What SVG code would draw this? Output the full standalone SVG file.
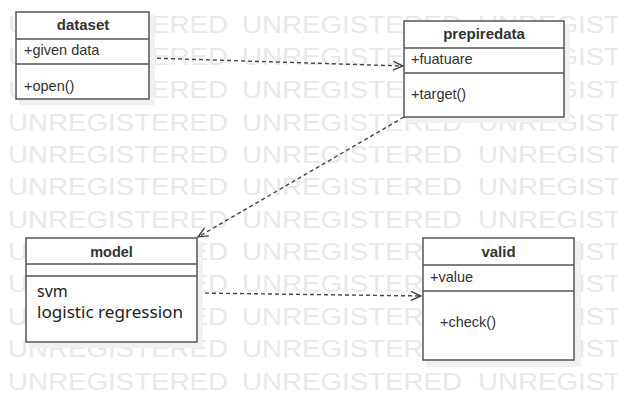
<svg xmlns="http://www.w3.org/2000/svg" width="618" height="393" viewBox="0 0 618 393">
<style>
.wm{font-family:"Liberation Sans",Arial,sans-serif;font-size:24px;fill:#e8e8e8}
.box{fill:#fff;stroke:#555;stroke-width:1.5}
.shadow{fill:#f1f1f1}
.sep{stroke:#555;stroke-width:1.5}
.hd{font-family:"Liberation Sans",Arial,sans-serif;font-size:15px;font-weight:bold;fill:#333;text-anchor:middle}
.at{font-family:"Liberation Sans",Arial,sans-serif;font-size:14.5px;fill:#333}
.cal{font-family:"Noto Sans","Open Sans",sans-serif;font-size:16px;fill:#222}
.conn{fill:none;stroke:#444;stroke-width:1.4;stroke-dasharray:4 3}
</style>
<defs>
<marker id="open" viewBox="0 0 12 10" refX="11" refY="5" markerWidth="12" markerHeight="10" markerUnits="userSpaceOnUse" orient="auto">
<path d="M1,0.5 L11,5 L1,9.5" fill="none" stroke="#444" stroke-width="1.4"/>
</marker>
</defs>
<rect width="618" height="393" fill="#fff"/>
<g id="watermark">
<text class="wm" y="33" x="8" textLength="220" lengthAdjust="spacingAndGlyphs">UNREGISTERED</text>
<text class="wm" y="33" x="242" textLength="220" lengthAdjust="spacingAndGlyphs">UNREGISTERED</text>
<text class="wm" y="33" x="478" textLength="143" lengthAdjust="spacingAndGlyphs">UNREGIST</text>
<text class="wm" y="65.4" x="8" textLength="220" lengthAdjust="spacingAndGlyphs">UNREGISTERED</text>
<text class="wm" y="65.4" x="242" textLength="220" lengthAdjust="spacingAndGlyphs">UNREGISTERED</text>
<text class="wm" y="65.4" x="478" textLength="143" lengthAdjust="spacingAndGlyphs">UNREGIST</text>
<text class="wm" y="97.8" x="8" textLength="220" lengthAdjust="spacingAndGlyphs">UNREGISTERED</text>
<text class="wm" y="97.8" x="242" textLength="220" lengthAdjust="spacingAndGlyphs">UNREGISTERED</text>
<text class="wm" y="97.8" x="478" textLength="143" lengthAdjust="spacingAndGlyphs">UNREGIST</text>
<text class="wm" y="131" x="8" textLength="220" lengthAdjust="spacingAndGlyphs">UNREGISTERED</text>
<text class="wm" y="131" x="242" textLength="220" lengthAdjust="spacingAndGlyphs">UNREGISTERED</text>
<text class="wm" y="131" x="478" textLength="143" lengthAdjust="spacingAndGlyphs">UNREGIST</text>
<text class="wm" y="163" x="8" textLength="220" lengthAdjust="spacingAndGlyphs">UNREGISTERED</text>
<text class="wm" y="163" x="242" textLength="220" lengthAdjust="spacingAndGlyphs">UNREGISTERED</text>
<text class="wm" y="163" x="478" textLength="143" lengthAdjust="spacingAndGlyphs">UNREGIST</text>
<text class="wm" y="195" x="8" textLength="220" lengthAdjust="spacingAndGlyphs">UNREGISTERED</text>
<text class="wm" y="195" x="242" textLength="220" lengthAdjust="spacingAndGlyphs">UNREGISTERED</text>
<text class="wm" y="195" x="478" textLength="143" lengthAdjust="spacingAndGlyphs">UNREGIST</text>
<text class="wm" y="227.5" x="8" textLength="220" lengthAdjust="spacingAndGlyphs">UNREGISTERED</text>
<text class="wm" y="227.5" x="242" textLength="220" lengthAdjust="spacingAndGlyphs">UNREGISTERED</text>
<text class="wm" y="227.5" x="478" textLength="143" lengthAdjust="spacingAndGlyphs">UNREGIST</text>
<text class="wm" y="260" x="8" textLength="220" lengthAdjust="spacingAndGlyphs">UNREGISTERED</text>
<text class="wm" y="260" x="242" textLength="220" lengthAdjust="spacingAndGlyphs">UNREGISTERED</text>
<text class="wm" y="260" x="478" textLength="143" lengthAdjust="spacingAndGlyphs">UNREGIST</text>
<text class="wm" y="292" x="8" textLength="220" lengthAdjust="spacingAndGlyphs">UNREGISTERED</text>
<text class="wm" y="292" x="242" textLength="220" lengthAdjust="spacingAndGlyphs">UNREGISTERED</text>
<text class="wm" y="292" x="478" textLength="143" lengthAdjust="spacingAndGlyphs">UNREGIST</text>
<text class="wm" y="324.5" x="8" textLength="220" lengthAdjust="spacingAndGlyphs">UNREGISTERED</text>
<text class="wm" y="324.5" x="242" textLength="220" lengthAdjust="spacingAndGlyphs">UNREGISTERED</text>
<text class="wm" y="324.5" x="478" textLength="143" lengthAdjust="spacingAndGlyphs">UNREGIST</text>
<text class="wm" y="357" x="8" textLength="220" lengthAdjust="spacingAndGlyphs">UNREGISTERED</text>
<text class="wm" y="357" x="242" textLength="220" lengthAdjust="spacingAndGlyphs">UNREGISTERED</text>
<text class="wm" y="357" x="478" textLength="143" lengthAdjust="spacingAndGlyphs">UNREGIST</text>
<text class="wm" y="389.5" x="8" textLength="220" lengthAdjust="spacingAndGlyphs">UNREGISTERED</text>
<text class="wm" y="389.5" x="242" textLength="220" lengthAdjust="spacingAndGlyphs">UNREGISTERED</text>
<text class="wm" y="389.5" x="478" textLength="143" lengthAdjust="spacingAndGlyphs">UNREGIST</text>
</g>
<g id="connectors">
<line class="conn" x1="150" y1="58" x2="403" y2="66" marker-end="url(#open)"/>
<line class="conn" x1="404" y1="117" x2="198" y2="237" marker-end="url(#open)"/>
<line class="conn" x1="198" y1="293" x2="421" y2="296" marker-end="url(#open)"/>
</g>
<g id="dataset">
<rect class="shadow" x="19" y="15" width="136" height="90"/>
<rect class="box" x="16" y="12" width="133" height="87"/>
<line class="sep" x1="16" y1="39" x2="149" y2="39"/>
<line class="sep" x1="16" y1="64" x2="149" y2="64"/>
<text class="hd" x="83" y="30">dataset</text>
<text class="at" x="24" y="55">+given data</text>
<text class="at" x="24" y="91">+open()</text>
</g>
<g id="prepiredata">
<rect class="shadow" x="407" y="24" width="163" height="99"/>
<rect class="box" x="404" y="21" width="160" height="96"/>
<line class="sep" x1="404" y1="48" x2="564" y2="48"/>
<line class="sep" x1="404" y1="73" x2="564" y2="73"/>
<text class="hd" x="484" y="39">prepiredata</text>
<text class="at" x="411" y="64">+fuatuare</text>
<text class="at" x="411" y="99">+target()</text>
</g>
<g id="model">
<rect class="shadow" x="29" y="241" width="174" height="107"/>
<rect class="box" x="26" y="238" width="171" height="104"/>
<line class="sep" x1="26" y1="264" x2="197" y2="264"/>
<line class="sep" x1="26" y1="276" x2="197" y2="276"/>
<text class="hd" x="111.5" y="257" style="font-size:14.5px">model</text>
<text class="cal" x="37" y="297">svm</text>
<text class="cal" x="37" y="318" textLength="146" lengthAdjust="spacingAndGlyphs">logistic regression</text>
</g>
<g id="valid">
<rect class="shadow" x="426" y="241" width="155" height="126"/>
<rect class="box" x="423" y="238" width="151" height="122"/>
<line class="sep" x1="423" y1="265" x2="574" y2="265"/>
<line class="sep" x1="423" y1="291" x2="574" y2="291"/>
<text class="hd" x="498.5" y="257">valid</text>
<text class="at" x="430" y="282">+value</text>
<text class="at" x="440" y="327">+check()</text>
</g>
</svg>
